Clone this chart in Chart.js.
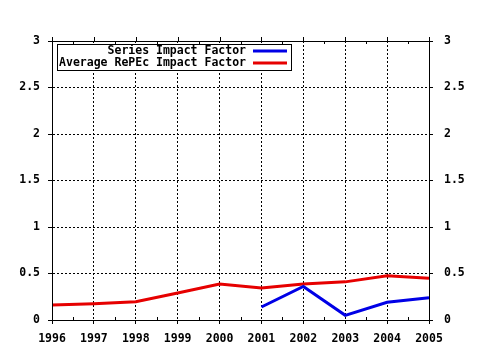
<!DOCTYPE html>
<html>
<head>
<meta charset="utf-8">
<script src="https://cdn.jsdelivr.net/npm/chart.js@4"></script>
<style>
  html, body { margin: 0; padding: 0; background: #fff; }
  #wrap { width: 480px; height: 350px; }
</style>
</head>
<body>
<div id="wrap"><canvas id="grafico" width="480" height="350"></canvas></div>
<script>
const years = ["1996", "1997", "1998", "1999", "2000", "2001", "2002", "2003", "2004", "2005"];
const seriesIF = [null, null, null, null, null, 0.14, 0.36, 0.05, 0.19, 0.24];
const repecIF = [0.16, 0.175, 0.197, 0.29, 0.387, 0.345, 0.387, 0.41, 0.476, 0.448];
const yTicks = [0, 0.5, 1, 1.5, 2, 2.5, 3];
const labels = ["Series Impact Factor", "Average RePEc Impact Factor"];

const fuente = { family: "'DejaVu Sans Mono', monospace", size: 11.5, weight: "bold" };
Chart.defaults.font = fuente;
Chart.defaults.color = "#000";

// marco, ticks menores y leyenda
const marco = {
  id: "marco",
  afterDraw(chart) {
    const ctx = chart.ctx;
    const a = chart.chartArea;
    const x = chart.scales.x;
    ctx.save();
    ctx.strokeStyle = "#000";
    ctx.lineWidth = 1;
    ctx.strokeRect(Math.round(a.left) + 0.5, Math.round(a.top) + 0.5,
      Math.round(a.right - a.left), Math.round(a.bottom - a.top));
    ctx.beginPath();
    for (let i = 0; i < years.length; i++) {
      const px = Math.round(x.getPixelForValue(i)) + 0.5;
      ctx.moveTo(px, a.top - 4);
      ctx.lineTo(px, a.top);
      if (i < years.length - 1) {
        const hx = Math.round((x.getPixelForValue(i) + x.getPixelForValue(i + 1)) / 2) + 0.5;
        ctx.moveTo(hx, a.top);
        ctx.lineTo(hx, a.top + 3);
        ctx.moveTo(hx, a.bottom - 3);
        ctx.lineTo(hx, a.bottom);
      }
    }
    ctx.stroke();

    // leyenda
    ctx.fillStyle = "#fff";
    ctx.fillRect(58, 45, 233, 25);
    ctx.strokeRect(57.5, 44.5, 234, 26);
    ctx.font = "bold 11.5px 'DejaVu Sans Mono', monospace";
    ctx.textAlign = "right";
    ctx.textBaseline = "middle";
    ctx.fillStyle = "#000";
    const filas = [51, 63];
    chart.data.datasets.forEach((ds, i) => {
      ctx.fillText(ds.label, 246, filas[i]);
      ctx.beginPath();
      ctx.strokeStyle = ds.borderColor;
      ctx.lineWidth = 3;
      ctx.moveTo(253, filas[i]);
      ctx.lineTo(287, filas[i]);
      ctx.stroke();
    });
    ctx.restore();
  }
};

const ejeY = (pos, ancho, pad, grid) => ({
  type: "linear",
  position: pos,
  min: 0,
  max: 3,
  afterBuildTicks: (s) => { s.ticks = yTicks.map(v => ({ value: v })); },
  afterFit: (s) => { s.width = ancho; },
  ticks: { padding: pad, color: "#000", font: fuente, callback: (v) => String(v) },
  grid: {
    display: true,
    drawOnChartArea: grid,
    color: "#000",
    tickLength: 4,
    tickBorderDash: []
  },
  border: { display: true, color: "#000", dash: [2, 2] }
});

new Chart(document.getElementById("grafico").getContext("2d"), {
  type: "line",
  data: {
    labels: years,
    datasets: [
      {
        label: labels[0],
        data: seriesIF,
        borderColor: "rgb(0,0,230)",
        borderWidth: 3,
        pointRadius: 0,
        tension: 0,
        spanGaps: false
      },
      {
        label: labels[1],
        data: repecIF,
        borderColor: "rgb(230,0,0)",
        borderWidth: 3,
        pointRadius: 0,
        tension: 0
      }
    ]
  },
  options: {
    responsive: false,
    animation: false,
    layout: { padding: { top: 41, left: 0, right: 0, bottom: 0 } },
    scales: {
      x: {
        type: "category",
        offset: false,
        afterFit: (s) => { s.height = 30; },
        ticks: { padding: 8, color: "#000", font: fuente, maxRotation: 0, autoSkip: false },
        grid: { color: "#000", tickLength: 4, tickBorderDash: [] },
        border: { display: true, color: "#000", dash: [2, 2] }
      },
      y: ejeY("left", 52, 8, true),
      y2: ejeY("right", 51, 11, false)
    },
    plugins: {
      legend: { display: false },
      tooltip: { enabled: false }
    }
  },
  plugins: [marco]
});
</script>
</body>
</html>
